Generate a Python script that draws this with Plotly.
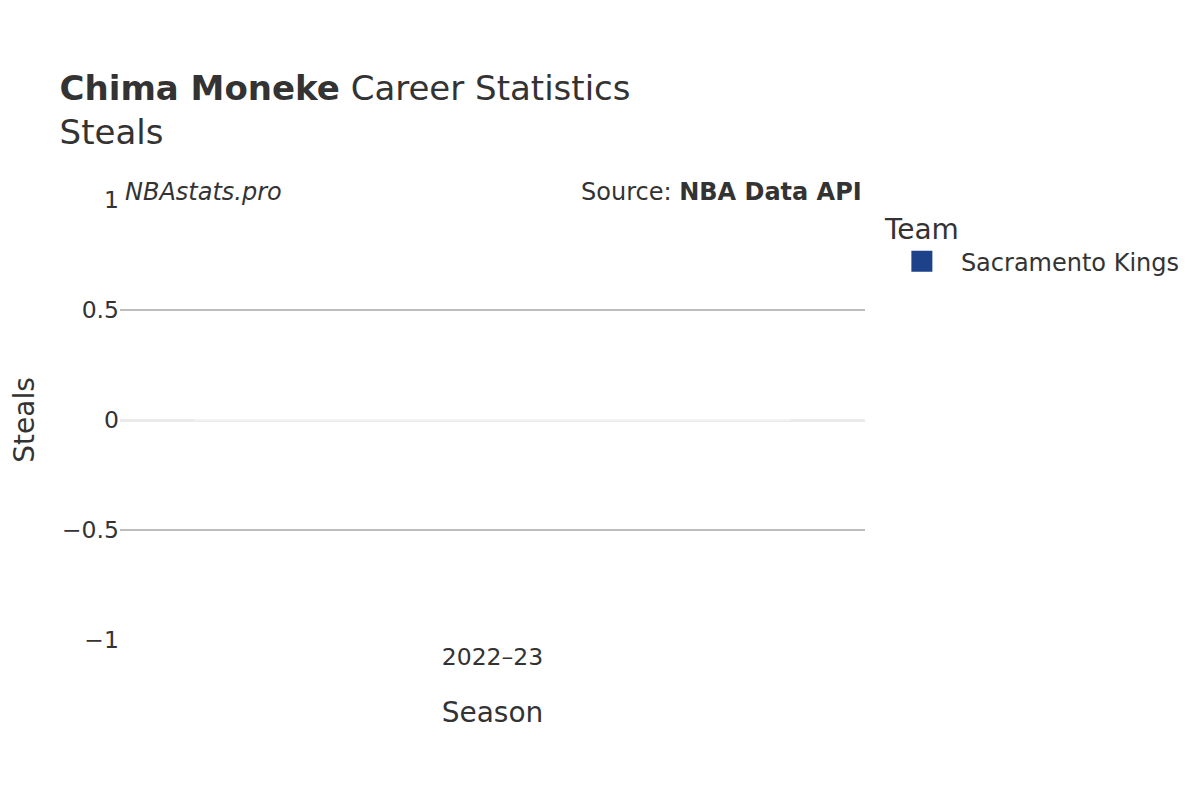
import plotly.graph_objects as go

# data
seasons = ["2022–23"]
steals = [0]
team = "Sacramento Kings"
team_color = "#1D428A"

fig = go.Figure()
fig.add_trace(go.Bar(
    x=seasons, y=steals, name=team, showlegend=False, legendgroup=team,
    marker=dict(color=team_color, cornerradius=4,
                line=dict(color="rgba(255,255,255,0.5)", width=1.5)),
))
# legend swatch (bigger than the default bar swatch)
fig.add_trace(go.Scatter(
    x=[None], y=[None], mode="markers", name=team, legendgroup=team,
    marker=dict(symbol="square", size=16, color=team_color,
                line=dict(color=team_color, width=5)),
))

font_family = "DejaVu Sans"

fig.update_layout(
    width=1200, height=800,
    font=dict(family=font_family, color="#333333"),
    plot_bgcolor="white", paper_bgcolor="white",
    margin=dict(l=112, r=343, t=192, b=168),
    title=dict(
        text="<b>Chima Moneke</b> Career Statistics<br>Steals",
        x=0.043, xref="container", xanchor="left",
        y=0.885, yref="container", yanchor="top",
        font=dict(size=34, color="#333333"),
    ),
    xaxis=dict(
        title=dict(text="Season", font=dict(size=28), standoff=32),
        tickfont=dict(size=23.5), automargin=False,
        showgrid=False, showline=False,
    ),
    yaxis=dict(
        title=dict(text="Steals", font=dict(size=28), standoff=31),
        tickfont=dict(size=23.5), automargin="top",
        range=[-1, 1], dtick=0.5,
        gridcolor="#bdbdbd", gridwidth=2,
        zeroline=True, zerolinecolor="#ebebeb", zerolinewidth=3,
        showline=False,
    ),
    legend=dict(
        title=dict(text="Team", font=dict(size=28)),
        font=dict(size=24), itemwidth=68,
        x=1.024, xanchor="left", y=0.994, yanchor="top",
    ),
    annotations=[
        dict(text="<i>NBAstats.pro</i>", xref="paper", yref="paper",
             x=0, y=1, xanchor="left", yanchor="middle", xshift=3, yshift=8,
             showarrow=False, font=dict(size=24)),
        dict(text="Source: <b>NBA Data API</b>", xref="paper", yref="paper",
             x=1, y=1, xanchor="right", yanchor="middle", xshift=-1, yshift=8,
             showarrow=False, font=dict(size=24)),
    ],
)

fig.write_html("out.html")
